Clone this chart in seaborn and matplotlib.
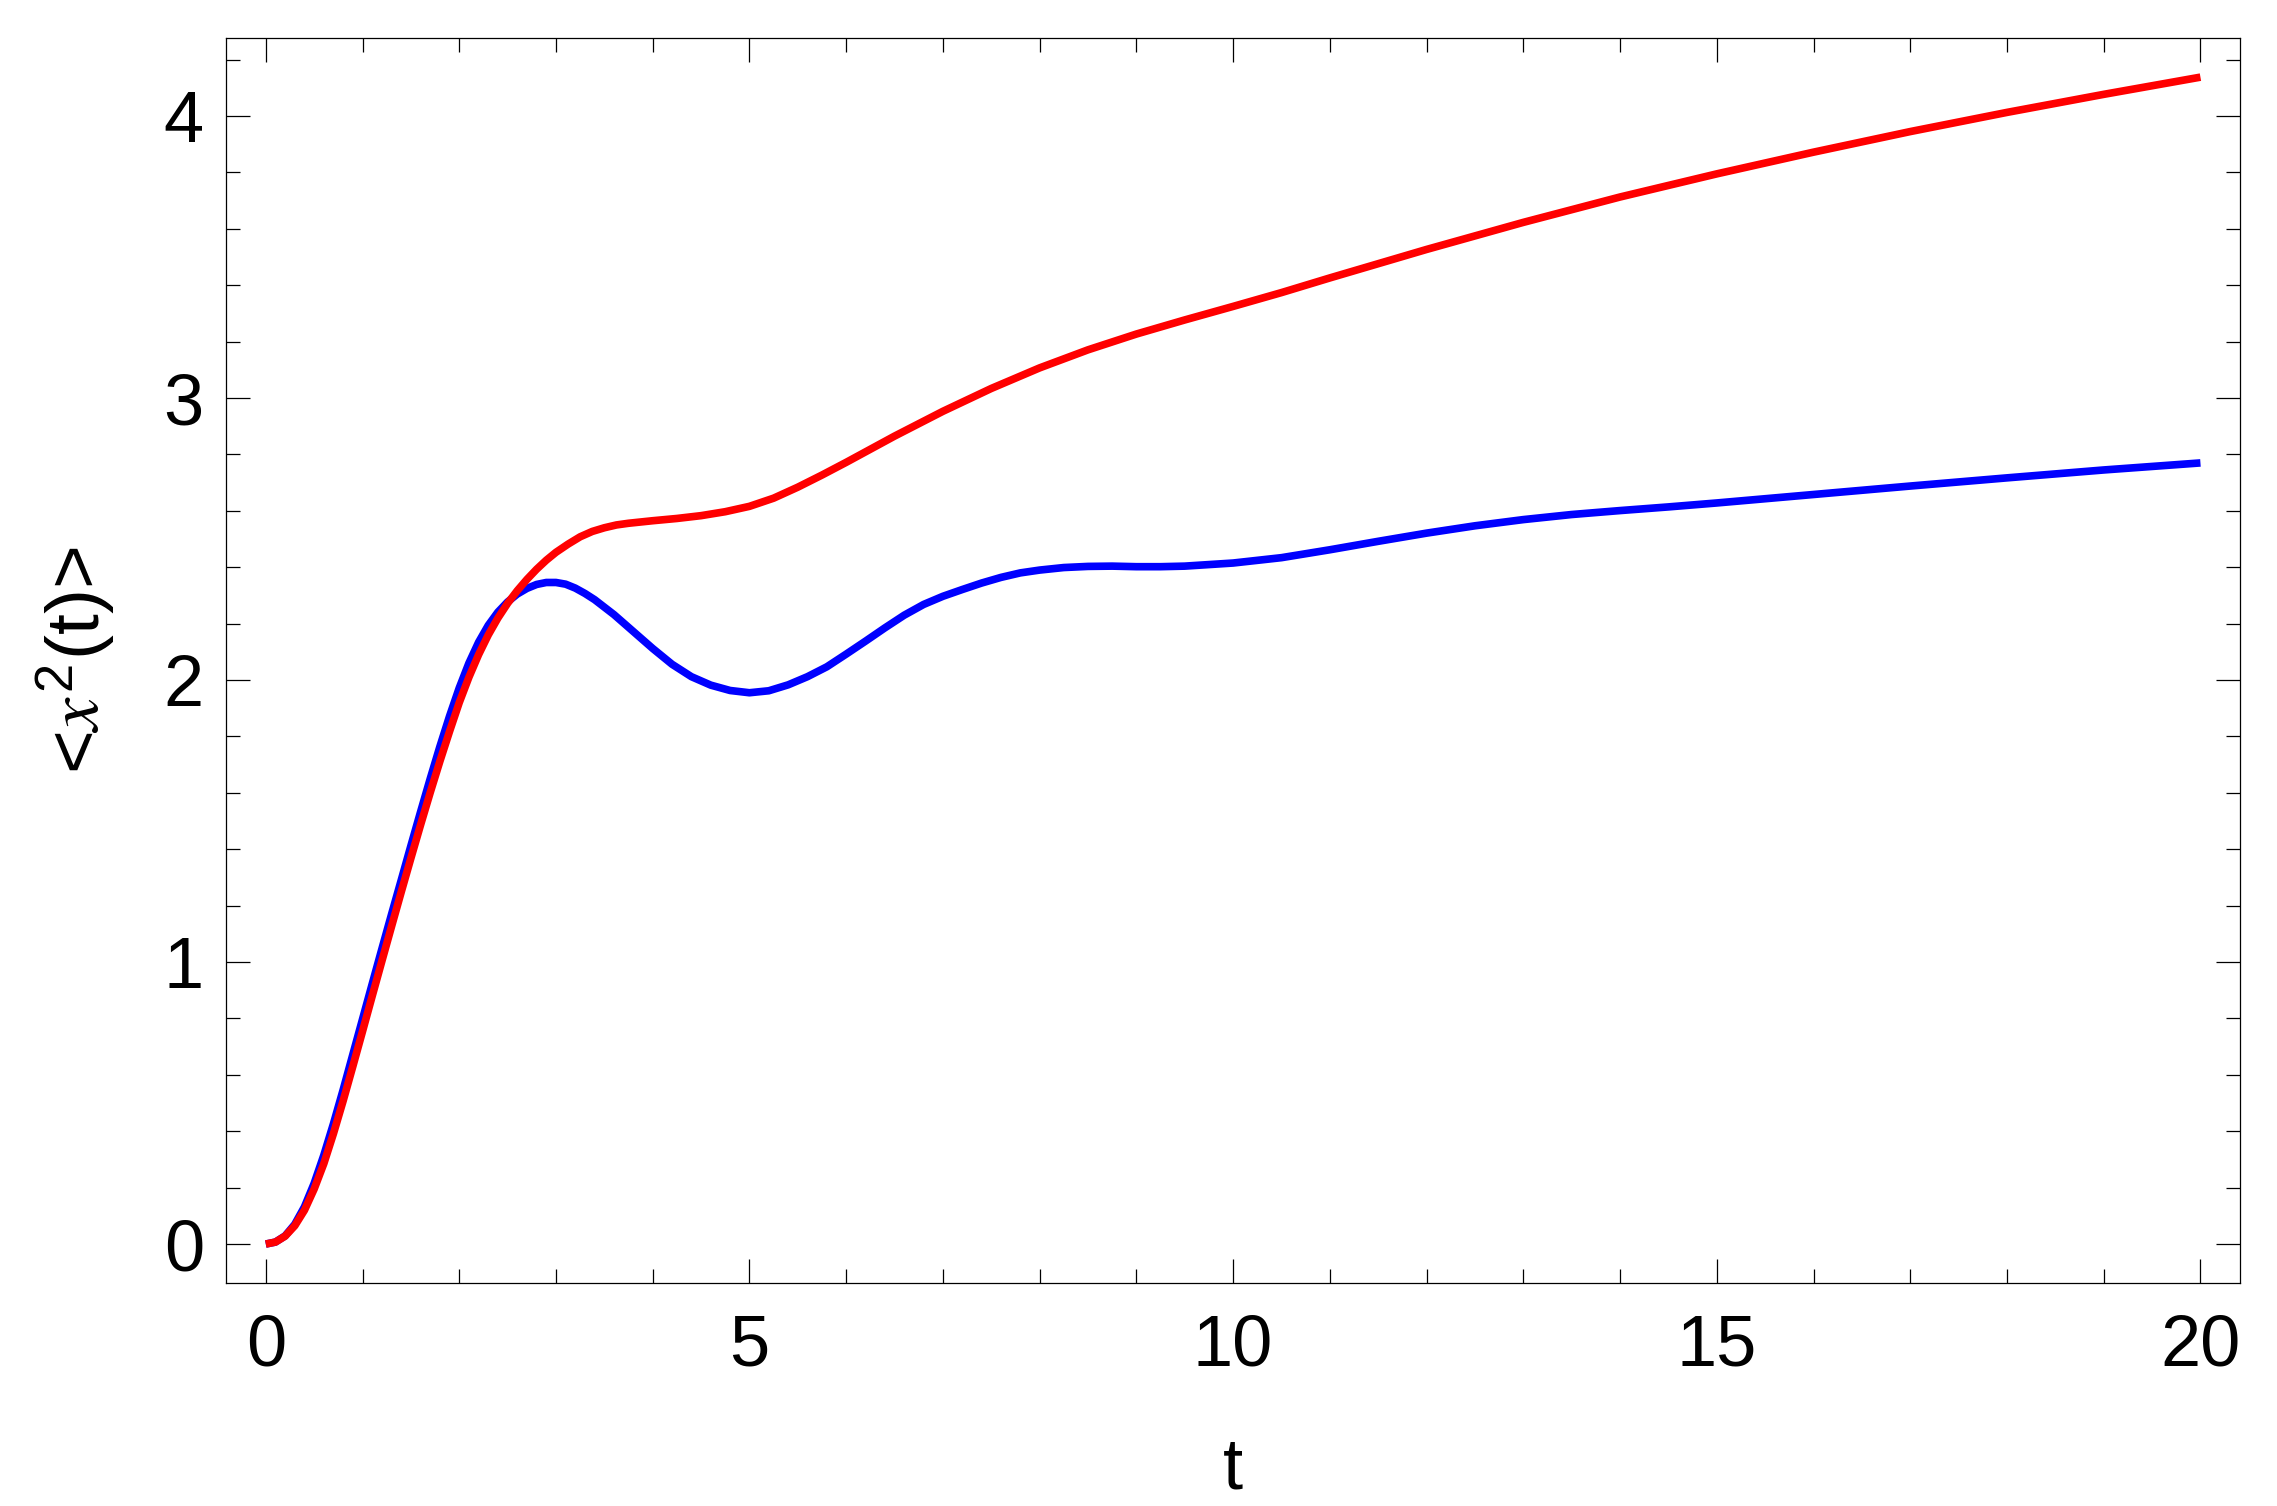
import matplotlib
matplotlib.use("Agg")
import matplotlib.pyplot as plt
from matplotlib.ticker import MultipleLocator
import seaborn as sns
import pandas as pd

# ---- data ----
red_t = [0, 0.1, 0.2, 0.3, 0.4, 0.5, 0.6, 0.7, 0.8, 0.9, 1.0, 1.1, 1.2, 1.3, 1.4, 1.5,
         1.6, 1.7, 1.8, 1.9, 2.0, 2.1, 2.2, 2.3, 2.4, 2.5, 2.6, 2.7, 2.8, 2.9, 3.0,
         3.125, 3.25, 3.375, 3.5, 3.625, 3.75, 4.0, 4.25, 4.5, 4.75, 5.0, 5.25, 5.5,
         5.75, 6.0, 6.5, 7.0, 7.5, 8.0, 8.5, 9.0, 9.5, 10, 10.5, 11, 12, 13, 14, 15,
         16, 17, 18, 19, 20]
red_y = [0, 0.007, 0.028, 0.065, 0.12, 0.195, 0.285, 0.392, 0.508, 0.63, 0.754,
         0.879, 1.003, 1.126, 1.248, 1.368, 1.486, 1.601, 1.712, 1.818, 1.92, 2.01,
         2.09, 2.16, 2.22, 2.272, 2.317, 2.357, 2.393, 2.425, 2.453, 2.482, 2.508,
         2.527, 2.54, 2.55, 2.556, 2.565, 2.573, 2.583, 2.597, 2.616, 2.645, 2.684,
         2.727, 2.772, 2.865, 2.953, 3.034, 3.107, 3.171, 3.227, 3.277, 3.325,
         3.374, 3.426, 3.527, 3.623, 3.713, 3.795, 3.872, 3.945, 4.013, 4.077, 4.138]

blue_t = [0, 0.1, 0.2, 0.3, 0.4, 0.5, 0.6, 0.7, 0.8, 0.9, 1.0, 1.1, 1.2, 1.3, 1.4,
          1.5, 1.6, 1.7, 1.8, 1.9, 2.0, 2.1, 2.2, 2.3, 2.4, 2.5, 2.6, 2.7, 2.8, 2.9,
          3.0, 3.1, 3.2, 3.3, 3.4, 3.6, 3.8, 4.0, 4.2, 4.4, 4.6, 4.8, 5.0, 5.2, 5.4,
          5.6, 5.8, 6.0, 6.2, 6.4, 6.6, 6.8, 7.0, 7.2, 7.4, 7.6, 7.8, 8.0, 8.25, 8.5,
          8.75, 9.0, 9.25, 9.5, 10.0, 10.5, 11, 11.5, 12, 12.5, 13, 13.5, 14, 14.5,
          15, 16, 17, 18, 19, 20]
blue_y = [0, 0.007, 0.029, 0.07, 0.132, 0.215, 0.315, 0.427, 0.547, 0.672, 0.797,
          0.922, 1.046, 1.169, 1.29, 1.412, 1.532, 1.65, 1.764, 1.872, 1.972, 2.06,
          2.134, 2.194, 2.241, 2.277, 2.305, 2.325, 2.339, 2.346, 2.346, 2.34, 2.326,
          2.307, 2.285, 2.232, 2.172, 2.112, 2.056, 2.012, 1.982, 1.963, 1.955,
          1.962, 1.983, 2.012, 2.047, 2.092, 2.138, 2.185, 2.23, 2.268, 2.297,
          2.321, 2.344, 2.364, 2.38, 2.39, 2.399, 2.403, 2.404, 2.402, 2.402,
          2.404, 2.415, 2.434, 2.462, 2.492, 2.521, 2.547, 2.569, 2.587, 2.601,
          2.614, 2.628, 2.658, 2.688, 2.717, 2.745, 2.77]

x_ticks = [0, 5, 10, 15, 20]
y_ticks = [0, 1, 2, 3, 4]
x_label = "t"
y_label = r"<$x^{2}$(t)>"

# ---- style ----
sns.set_style("ticks")
plt.rcParams["font.family"] = ["Liberation Sans", "DejaVu Sans"]
plt.rcParams["mathtext.fontset"] = "custom"
plt.rcParams["mathtext.it"] = "STIXGeneral:italic"
plt.rcParams["mathtext.rm"] = "Liberation Sans"
plt.rcParams["text.color"] = "black"
plt.rcParams["axes.labelcolor"] = "black"
plt.rcParams["xtick.color"] = "black"
plt.rcParams["ytick.color"] = "black"

fig = plt.figure(figsize=(22.77, 15.06), dpi=100)
ax = fig.add_axes([0.0993, 0.1481, 0.8845, 0.8267])

df_blue = pd.DataFrame({"t": blue_t, "v": blue_y})
df_red = pd.DataFrame({"t": red_t, "v": red_y})
sns.lineplot(data=df_blue, x="t", y="v", color="#0000ff", linewidth=5.5,
             ax=ax, estimator=None, sort=False, solid_capstyle="butt")
sns.lineplot(data=df_red, x="t", y="v", color="#ff0000", linewidth=5.5,
             ax=ax, estimator=None, sort=False, solid_capstyle="butt")

ax.set_xlim(-0.41, 20.41)
ax.set_ylim(-0.138, 4.277)
ax.set_xticks(x_ticks)
ax.set_yticks(y_ticks)
ax.set_xticklabels([str(v) for v in x_ticks])
ax.set_yticklabels([str(v) for v in y_ticks])
ax.xaxis.set_minor_locator(MultipleLocator(1))
ax.yaxis.set_minor_locator(MultipleLocator(0.2))

for s in ax.spines.values():
    s.set_visible(True)
    s.set_linewidth(0.9)
    s.set_color("black")

ax.tick_params(which="both", direction="in", top=True, right=True,
               color="black", width=0.9, labelcolor="black")
ax.tick_params(which="major", length=17.3)
ax.tick_params(which="minor", length=10.0)
ax.tick_params(axis="x", which="major", labelsize=52, pad=22)
ax.tick_params(axis="y", which="major", labelsize=52, pad=16)

ax.set_xlabel(x_label, fontsize=52, labelpad=40, color="black")
ax.set_ylabel(y_label, fontsize=54, labelpad=32, color="black")

fig.savefig("out.png", dpi=100, facecolor="white")
